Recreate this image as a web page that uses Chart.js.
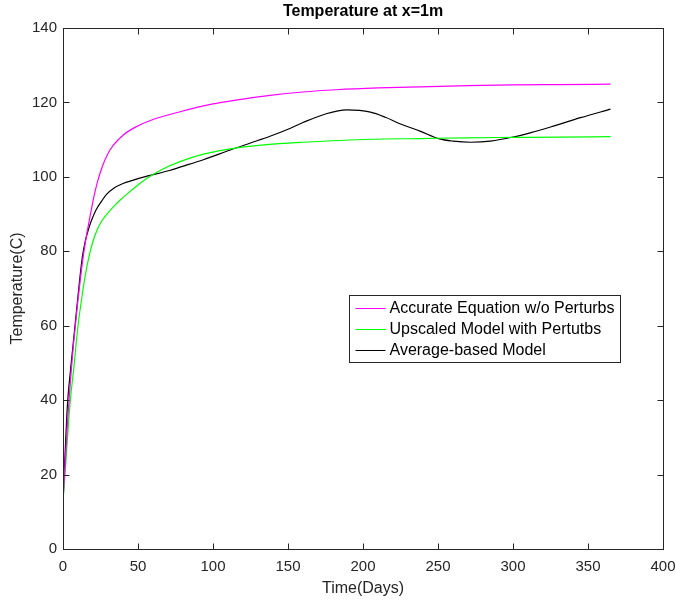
<!DOCTYPE html>
<html><head><meta charset="utf-8">
<script src="https://cdn.jsdelivr.net/npm/chart.js@4"></script>
<style>html,body{margin:0;padding:0;background:#fff;} #wrap{width:675px;height:600px;}</style>
</head><body><div id="wrap"><canvas id="c" width="675" height="600"></canvas></div>
<script>
const chartTitle = 'Temperature at x=1m';
const xAxisTitle = 'Time(Days)';
const yAxisTitle = 'Temperature(C)';
const seriesNames = ['Accurate Equation w/o Perturbs', 'Upscaled Model with Pertutbs', 'Average-based Model'];
const seriesColors = ['#FF00FF', '#00FF00', '#000000'];
const xTicks = [0, 50, 100, 150, 200, 250, 300, 350, 400];
const yTicks = [0, 20, 40, 60, 80, 100, 120, 140];

const accurateDays = [0, 1, 2, 3, 4, 5.5, 7, 8.5, 10, 12, 14, 16, 18, 20, 22.9, 26.4, 30, 33.6, 40, 48, 60, 78, 100, 120, 138, 160, 182, 210, 238, 270, 300, 330, 365];
const accurateTemp = [13, 20, 27, 34, 40, 48, 55, 61, 67, 74, 80, 85, 89.3, 93.5, 98.5, 103, 106.3, 108.5, 111.2, 113.3, 115.4, 117.5, 119.6, 120.9, 121.9, 122.8, 123.4, 123.9, 124.2, 124.5, 124.7, 124.8, 124.9];

const upscaledDays = [0, 1, 2, 3, 4, 4.9, 7.3, 10, 12, 14, 16, 18, 20, 22, 24, 26, 28.5, 31, 34.7, 38, 42.4, 50, 56, 65, 78, 93.6, 116, 140, 160, 205, 238, 270, 300, 330, 365];
const upscaledTemp = [13, 18, 24, 30, 35.5, 40, 49, 60, 66, 71.5, 76, 79.7, 82.7, 85, 86.8, 88.2, 89.6, 90.8, 92.4, 93.7, 95.3, 97.8, 99.6, 101.8, 104.1, 106.1, 107.8, 108.8, 109.3, 110.1, 110.3, 110.5, 110.6, 110.7, 110.8];

const averageDays = [0, 1, 2, 3, 5, 6.5, 8, 10, 12.9, 15, 17.5, 19.5, 22, 25.8, 29, 33.6, 40, 45.8, 56, 71, 78, 93.6, 112, 125, 138, 150, 160, 175, 189, 205, 215, 225, 238, 251, 260, 272, 285, 300, 312, 325, 345, 365];
const averageTemp = [13, 22, 31, 39, 48, 54, 60, 68, 78.5, 83, 86.6, 88.8, 91.1, 93.5, 95.3, 96.9, 98.2, 99.0, 100.2, 101.7, 102.6, 104.6, 107.3, 109.1, 110.9, 112.8, 114.6, 116.9, 118, 117.4, 116, 114.2, 112.3, 110.2, 109.6, 109.3, 109.6, 110.7, 111.9, 113.4, 115.9, 118.2];

function pts(xs, ys) { return xs.map((d, i) => ({x: d, y: ys[i]})); }

const FONT = '"Liberation Sans", Arial, Helvetica, sans-serif';
const AXC = '#262626';

const framePlugin = {
  id: 'frameAndLegend',
  afterDatasetsDraw(chart) {
    const {ctx, chartArea: a, scales} = chart;
    const x = scales.x, y = scales.y;
    ctx.save();
    ctx.strokeStyle = AXC;
    ctx.lineWidth = 1;
    const L = Math.round(a.left) + 0.5, R = Math.round(a.right) + 0.5;
    const T = Math.round(a.top) + 0.5, B = Math.round(a.bottom) + 0.5;
    ctx.strokeRect(L, T, R - L, B - T);
    const tl = 6;
    ctx.beginPath();
    x.ticks.forEach(t => {
      const px = Math.round(x.getPixelForValue(t.value)) + 0.5;
      ctx.moveTo(px, B); ctx.lineTo(px, B - tl);
      ctx.moveTo(px, T); ctx.lineTo(px, T + tl);
    });
    y.ticks.forEach(t => {
      const py = Math.round(y.getPixelForValue(t.value)) + 0.5;
      ctx.moveTo(L, py); ctx.lineTo(L + tl, py);
      ctx.moveTo(R, py); ctx.lineTo(R - tl, py);
    });
    ctx.stroke();

    // title, centred over the plot area
    ctx.fillStyle = '#000';
    ctx.font = 'bold 16px ' + FONT;
    ctx.textAlign = 'center';
    ctx.textBaseline = 'middle';
    ctx.fillText(chartTitle, (a.left + a.right) / 2, a.top - 16);

    // legend box
    ctx.font = '16px ' + FONT;
    const ds = chart.data.datasets;
    let maxW = 0;
    ds.forEach(d => { maxW = Math.max(maxW, ctx.measureText(d.label).width); });
    const bx = Math.round(a.left + (a.right - a.left) * 0.477) + 0.5;
    const by = Math.round(a.top + (a.bottom - a.top) * 0.512) + 0.5;
    const rowH = 21;
    const bw = Math.round(40 + maxW + 6);
    const bh = 67;
    ctx.fillStyle = '#fff';
    ctx.fillRect(bx, by, bw, bh);
    ctx.strokeStyle = AXC;
    ctx.strokeRect(bx, by, bw, bh);
    ds.forEach((d, i) => {
      const cy = by + 12.5 + i * rowH;
      ctx.strokeStyle = d.borderColor;
      ctx.lineWidth = 1;
      ctx.beginPath();
      ctx.moveTo(bx + 6, Math.round(cy) + 0.5);
      ctx.lineTo(bx + 36, Math.round(cy) + 0.5);
      ctx.stroke();
      ctx.fillStyle = '#000';
      ctx.textBaseline = 'middle';
      ctx.textAlign = 'left';
      ctx.fillText(d.label, bx + 40, cy + 1);
    });
    ctx.restore();
  }
};

const datasets = [
  {label: seriesNames[0], data: pts(accurateDays, accurateTemp), borderColor: seriesColors[0]},
  {label: seriesNames[1], data: pts(upscaledDays, upscaledTemp), borderColor: seriesColors[1]},
  {label: seriesNames[2], data: pts(averageDays, averageTemp), borderColor: seriesColors[2]}
].map(d => Object.assign(d, {borderWidth: 1.2, pointRadius: 0, fill: false, cubicInterpolationMode: 'monotone'}));

new Chart(document.getElementById('c'), {
  type: 'line',
  data: {datasets},
  options: {
    responsive: false,
    animation: false,
    devicePixelRatio: 1,
    layout: {padding: {left: 0, right: 12, top: 28, bottom: 0}},
    plugins: {
      legend: {display: false},
      tooltip: {enabled: false},
      title: {display: false}
    },
    scales: {
      x: {
        type: 'linear', min: xTicks[0], max: xTicks[xTicks.length - 1],
        afterBuildTicks(s) { s.ticks = xTicks.map(v => ({value: v})); },
        afterFit(s) { s.height = 51; s.paddingLeft = 0; s.paddingRight = 0; },
        grid: {display: false, drawTicks: false},
        border: {display: false},
        ticks: {color: AXC, font: {family: FONT, size: 15}, padding: 9, maxRotation: 0},
        title: {display: true, text: xAxisTitle, color: AXC, font: {family: FONT, size: 16}, padding: {top: 0, bottom: 2}}
      },
      y: {
        type: 'linear', min: yTicks[0], max: yTicks[yTicks.length - 1],
        afterBuildTicks(s) { s.ticks = yTicks.map(v => ({value: v})); },
        afterFit(s) { s.width = 63; s.paddingTop = 0; s.paddingBottom = 0; },
        grid: {display: false, drawTicks: false},
        border: {display: false},
        ticks: {color: AXC, font: {family: FONT, size: 15}, padding: 6},
        title: {display: true, text: yAxisTitle, color: AXC, font: {family: FONT, size: 16}, padding: {top: 8, bottom: 0}}
      }
    }
  },
  plugins: [framePlugin]
});
</script>
</body></html>
